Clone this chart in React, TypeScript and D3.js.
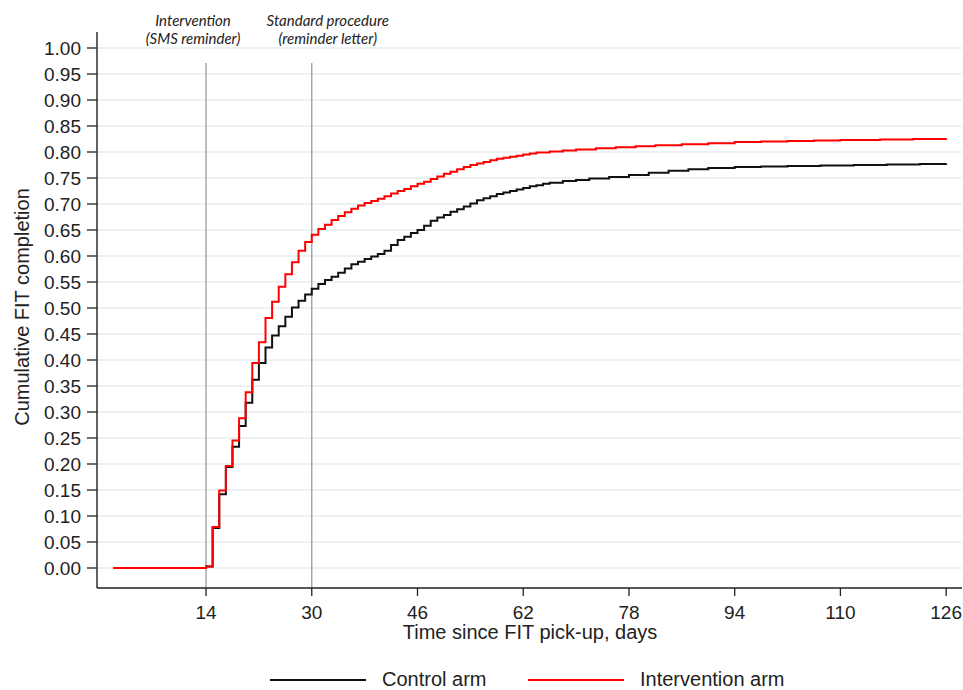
import React from "react";
import * as d3 from "d3";

// [day, cumulative completion]
const controlSteps: [number, number][] = [
  [0, 0], [14, 0.003], [15, 0.077], [16, 0.142], [17, 0.194], [18, 0.233], [19, 0.273],
  [20, 0.318], [21, 0.362], [22, 0.394], [23, 0.424], [24, 0.447], [25, 0.465], [26, 0.483],
  [27, 0.501], [28, 0.514], [29, 0.526], [30, 0.537], [31, 0.546], [32, 0.554], [33, 0.56],
  [34, 0.568], [35, 0.576], [36, 0.584], [37, 0.589], [38, 0.594], [39, 0.599], [40, 0.604],
  [41, 0.61], [42, 0.621], [43, 0.631], [44, 0.637], [45, 0.644], [46, 0.65], [47, 0.658],
  [48, 0.668], [49, 0.674], [50, 0.679], [51, 0.685], [52, 0.69], [53, 0.695], [54, 0.701],
  [55, 0.707], [56, 0.711], [57, 0.715], [58, 0.719], [59, 0.722], [60, 0.725], [61, 0.728],
  [62, 0.731], [63, 0.734], [64, 0.736], [65, 0.739], [66, 0.741], [68, 0.744], [70, 0.746],
  [72, 0.749], [75, 0.752], [78, 0.756], [81, 0.76], [84, 0.764], [87, 0.767], [90, 0.769],
  [94, 0.771], [98, 0.772], [102, 0.773], [107, 0.774], [112, 0.775], [117, 0.776],
  [122, 0.777], [126, 0.778],
];

const interventionSteps: [number, number][] = [
  [0, 0], [14, 0.003], [15, 0.079], [16, 0.149], [17, 0.196], [18, 0.245], [19, 0.288],
  [20, 0.338], [21, 0.394], [22, 0.434], [23, 0.481], [24, 0.512], [25, 0.541], [26, 0.565],
  [27, 0.588], [28, 0.61], [29, 0.627], [30, 0.641], [31, 0.652], [32, 0.66], [33, 0.669],
  [34, 0.677], [35, 0.684], [36, 0.691], [37, 0.697], [38, 0.702], [39, 0.706], [40, 0.71],
  [41, 0.715], [42, 0.72], [43, 0.725], [44, 0.729], [45, 0.734], [46, 0.739], [47, 0.743],
  [48, 0.748], [49, 0.753], [50, 0.758], [51, 0.762], [52, 0.767], [53, 0.771], [54, 0.775],
  [55, 0.778], [56, 0.781], [57, 0.784], [58, 0.787], [59, 0.789], [60, 0.791], [61, 0.793],
  [62, 0.795], [63, 0.797], [64, 0.799], [66, 0.801], [68, 0.803], [70, 0.805], [73, 0.807],
  [76, 0.809], [79, 0.811], [82, 0.813], [86, 0.815], [90, 0.817], [94, 0.819], [98, 0.82],
  [102, 0.821], [106, 0.822], [110, 0.823], [116, 0.824], [121, 0.825], [126, 0.826],
];

const xTicks = [14, 30, 46, 62, 78, 94, 110, 126];
const yTicks = d3.range(0, 21).map((i) => i * 0.05);

const markers = [
  { day: 14, lines: ["Intervention", "(SMS reminder)"], dx: -13 },
  { day: 30, lines: ["Standard procedure", "(reminder letter)"], dx: 16 },
];

const legendItems = [
  { label: "Control arm", color: "#111111" },
  { label: "Intervention arm", color: "#ff0000" },
];

const W = 963;
const H = 690;
const sans = "Arial, 'Liberation Sans', sans-serif";

export default function App() {
  const x = d3.scaleLinear().domain([-2.5, 128.4]).range([97, 962]);
  const y = d3.scaleLinear().domain([0, 1]).range([568, 48]);
  const yBottom = y(-0.0385);
  const yTop = y(1.031);

  const line = d3
    .line<[number, number]>()
    .x((d) => x(d[0]))
    .y((d) => y(d[1]))
    .curve(d3.curveStepAfter);

  const fmt = d3.format(".2f");

  return (
    <svg
      width={W}
      height={H}
      style={{ position: "absolute", left: 0, top: 0, background: "#fff" }}
      fontFamily={sans}
    >
      {/* gridlines */}
      {yTicks.map((t) => (
        <line key={"g" + t} x1={x.range()[0]} x2={x.range()[1]} y1={y(t)} y2={y(t)}
          stroke="#e3eef0" strokeWidth={1.6} />
      ))}

      {/* reference lines */}
      {markers.map((m) => (
        <g key={m.day}>
          <line x1={x(m.day)} x2={x(m.day)} y1={63} y2={yBottom} stroke="#9a9a9a" strokeWidth={1.3} />
          {m.lines.map((s, i) => (
            <text key={s} x={x(m.day) + m.dx} y={26 + i * 18} textAnchor="middle"
              fontFamily="Lato, 'Open Sans', sans-serif" fontStyle="italic" fontSize={15} fill="#222">
              {s}
            </text>
          ))}
        </g>
      ))}

      {/* curves */}
      <path d={line(controlSteps) ?? ""} fill="none" stroke="#111111" strokeWidth={2} />
      <path d={line(interventionSteps) ?? ""} fill="none" stroke="#ff0000" strokeWidth={2} />

      {/* y axis */}
      <line x1={97} x2={97} y1={yTop} y2={yBottom} stroke="#222" strokeWidth={1.4} />
      {yTicks.map((t) => (
        <g key={"y" + t}>
          <line x1={87} x2={97} y1={y(t)} y2={y(t)} stroke="#222" strokeWidth={1.3} />
          <text x={81} y={y(t)} dy="0.36em" textAnchor="end" fontSize={19} fill="#222">
            {fmt(t)}
          </text>
        </g>
      ))}

      {/* x axis */}
      <line x1={97} x2={962} y1={yBottom} y2={yBottom} stroke="#222" strokeWidth={1.4} />
      {xTicks.map((t) => (
        <g key={"x" + t}>
          <line x1={x(t)} x2={x(t)} y1={yBottom} y2={yBottom + 8} stroke="#222" strokeWidth={1.3} />
          <text x={x(t)} y={618.5} textAnchor="middle" fontSize={19} fill="#222">
            {t}
          </text>
        </g>
      ))}

      <text x={530} y={639} textAnchor="middle" fontSize={20} fill="#222">
        Time since FIT pick-up, days
      </text>
      <text transform={`translate(22,307) rotate(-90)`} textAnchor="middle" dy="0.35em"
        fontSize={20} fill="#222">
        Cumulative FIT completion
      </text>

      {/* legend */}
      {legendItems.map((it, i) => {
        const lx = 270 + i * 258;
        return (
          <g key={it.label}>
            <line x1={lx} x2={lx + 96} y1={680} y2={680} stroke={it.color} strokeWidth={2.2} />
            <text x={lx + 112} y={686} fontSize={20} fill="#222">
              {it.label}
            </text>
          </g>
        );
      })}
    </svg>
  );
}
